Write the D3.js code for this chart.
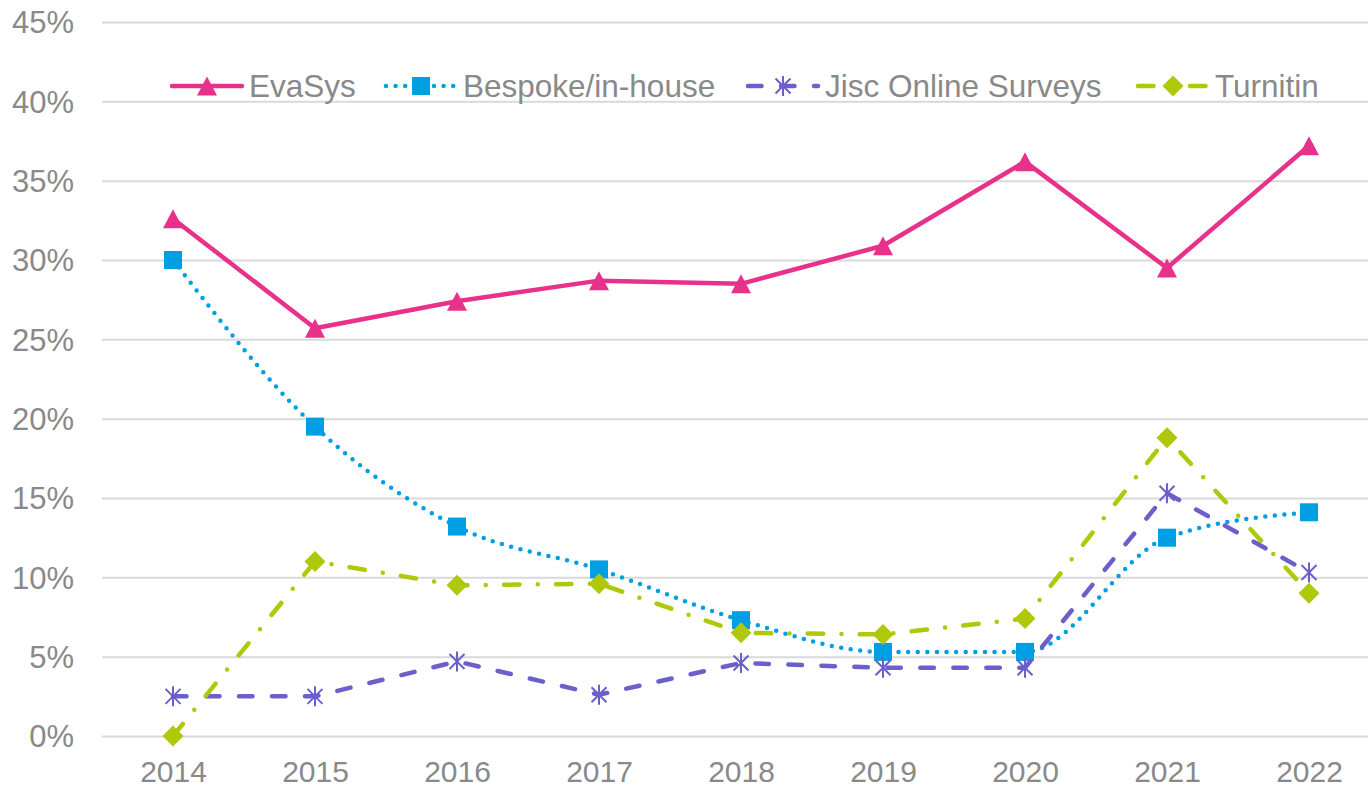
<!DOCTYPE html>
<html>
<head>
<meta charset="utf-8">
<script src="https://cdn.jsdelivr.net/npm/d3@7"></script>
<style>
  html, body { margin: 0; padding: 0; background: #fff; }
  svg { display: block; font-family: "Liberation Sans", Arial, sans-serif; }
</style>
</head>
<body>
<svg id="chart" width="1368" height="788"></svg>
<script>
const years = [2014, 2015, 2016, 2017, 2018, 2019, 2020, 2021, 2022];
const yTicks = [0, 5, 10, 15, 20, 25, 30, 35, 40, 45];

const evasys   = [32.6, 25.7, 27.4, 28.7, 28.5, 30.9, 36.2, 29.5, 37.2];
const bespoke  = [30.0, 19.5, 13.2, 10.5, 7.3, 5.3, 5.3, 12.5, 14.1];
const jisc     = [2.5, 2.5, 4.7, 2.6, 4.6, 4.3, 4.3, 15.3, 10.3];
const turnitin = [0.0, 11.0, 9.5, 9.6, 6.5, 6.4, 7.4, 18.8, 9.0];

const seriesNames = ["EvaSys", "Bespoke/in-house", "Jisc Online Surveys", "Turnitin"];

const svg = d3.select('#chart');
const textColor = '#898989';

const x = d3.scaleLinear().domain([2014, 2022]).range([173, 1309]);
const y = d3.scaleLinear().domain([0, 45]).range([736, 22]);

// gridlines
const grid = svg.append('g').attr('transform', 'translate(102,0)')
  .call(d3.axisLeft(y).tickValues(yTicks).tickSize(-1266).tickFormat(''));
grid.select('.domain').remove();
grid.selectAll('line').attr('stroke', '#d9d9d9').attr('stroke-width', 2);

// y tick labels
const yAxis = svg.append('g').attr('transform', 'translate(74,0)')
  .call(d3.axisLeft(y).tickValues(yTicks).tickSize(0).tickPadding(0).tickFormat(d => d + '%'));
yAxis.select('.domain').remove();
yAxis.selectAll('text')
  .attr('fill', textColor).style('font-size', '31px').attr('dy', '0.35em')
  .style('font-family', '"Liberation Sans", Arial, sans-serif');

// x tick labels
const xAxis = svg.append('g').attr('transform', 'translate(0,752)')
  .call(d3.axisBottom(x).tickValues(years).tickSize(0).tickPadding(0).tickFormat(d3.format('d')));
xAxis.select('.domain').remove();
xAxis.selectAll('text')
  .attr('fill', textColor).style('font-size', '30px').attr('dy', '1em')
  .style('font-family', '"Liberation Sans", Arial, sans-serif');

// marker shapes
function marker(g, kind, color) {
  if (kind === 'triangle') {
    g.append('path').attr('d', 'M0,-9.5L10,9.5L-10,9.5Z').attr('fill', color);
  } else if (kind === 'square') {
    g.append('rect').attr('x', -9).attr('y', -9).attr('width', 18).attr('height', 18).attr('fill', color);
  } else if (kind === 'star') {
    g.append('path').attr('d', 'M-7.5,-7.5L7.5,7.5M-7.5,7.5L7.5,-7.5M0,-10L0,10')
      .attr('stroke', color).attr('stroke-width', 2).attr('fill', 'none');
  } else if (kind === 'diamond') {
    g.append('path').attr('d', 'M0,-10.5L10.5,0L0,10.5L-10.5,0Z').attr('fill', color);
  }
}

const series = [
  { name: seriesNames[0], values: evasys,   color: '#E8318A', dash: null,                    curve: d3.curveLinear,     marker: 'triangle' },
  { name: seriesNames[1], values: bespoke,  color: '#009FE3', dash: '0,9.6',                 curve: d3.curveMonotoneX,  marker: 'square' },
  { name: seriesNames[2], values: jisc,     color: '#6A5FCB', dash: '13.5,19.5',             curve: d3.curveLinear,     marker: 'star' },
  { name: seriesNames[3], values: turnitin, color: '#AFC80A', dash: '15.5,18.25,0,18.25',    curve: d3.curveLinear,     marker: 'diamond' }
];

series.forEach(s => {
  const line = d3.line().x((d, i) => x(years[i])).y(d => y(d)).curve(s.curve);
  svg.append('path')
    .attr('d', line(s.values))
    .attr('fill', 'none')
    .attr('stroke', s.color)
    .attr('stroke-width', 4.5)
    .attr('stroke-linecap', 'round')
    .attr('stroke-linejoin', 'round')
    .attr('stroke-dasharray', s.dash);
  s.values.forEach((v, i) => {
    const g = svg.append('g').attr('transform', `translate(${x(years[i])},${y(v)})`);
    marker(g, s.marker, s.color);
  });
});

// legend
const legendX = [172, 386, 748, 1138];
const legend = svg.append('g').attr('transform', 'translate(0,86)');
series.forEach((s, i) => {
  const g = legend.append('g').attr('transform', `translate(${legendX[i]},0)`);
  g.append('line').attr('x1', 0).attr('x2', 70).attr('y1', 0).attr('y2', 0)
    .attr('stroke', s.color).attr('stroke-width', 4.5)
    .attr('stroke-linecap', 'round').attr('stroke-dasharray', s.dash);
  marker(g.append('g').attr('transform', 'translate(35,0)'), s.marker, s.color);
  g.append('text').attr('x', 77).attr('y', 0).attr('dy', '0.35em')
    .attr('fill', textColor).style('font-size', '31.5px').text(s.name);
});
</script>
</body>
</html>
